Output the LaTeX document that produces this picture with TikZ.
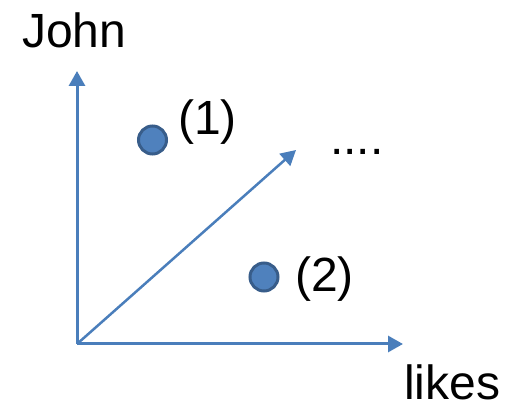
\documentclass[tikz,border=0pt]{standalone}
\usepackage{fontspec}
\setmainfont{Liberation Sans}
\usetikzlibrary{arrows.meta}
\definecolor{axisblue}{HTML}{4A7EBB}
\definecolor{dotfill}{HTML}{4F81BD}
\definecolor{dotedge}{HTML}{385D8A}
\tikzset{
  axis/.style={draw=axisblue, line width=3pt, -{Triangle[width=16pt,length=15pt]}},
  datapt/.style={circle, fill=dotfill, draw=dotedge, line width=3pt, minimum size=28pt, inner sep=0pt},
  lbl/.style={anchor=base west, inner sep=0pt, font=\fontsize{48}{56}\selectfont}
}
\begin{document}
\begin{tikzpicture}[x=1pt,y=-1pt]
\useasboundingbox (0,0) rectangle (507,406);
\coordinate (o) at (77,344);
\coordinate (ytip) at (77,71);
\coordinate (xtip) at (403,344);
\coordinate (dtip) at (296,150);
\draw[axis] (o) -- (ytip);
\draw[axis] (o) -- (xtip);
\draw[axis, line width=2.5pt] (o) -- (dtip);
\node[datapt] (p1) at (152.5,140) {};
\node[datapt] (p2) at (264,277) {};
\node[lbl] (john) at (22,48) {John};
\node[lbl] (l1) at (178,135) {(1)};
\node[lbl] (dots) at (330,155) {....};
\node[lbl] (l2) at (295,292) {(2)};
\node[lbl] (likes) at (404,400) {likes};
\end{tikzpicture}
\end{document}
